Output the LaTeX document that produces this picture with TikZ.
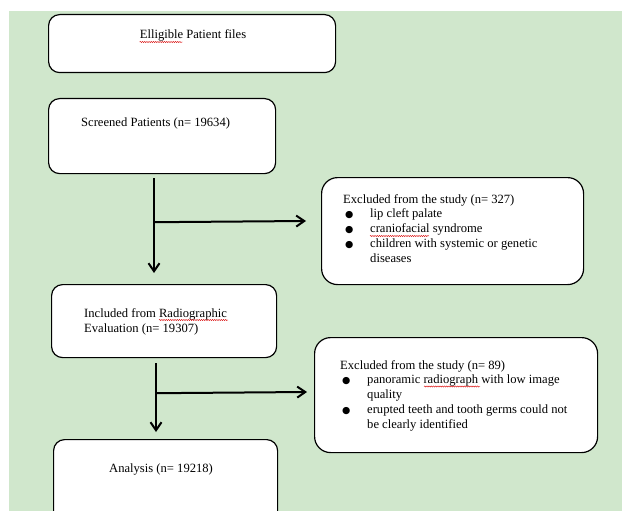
\documentclass[tikz,border=0pt]{standalone}
\usepackage{fontspec}
\setmainfont{Liberation Serif}
\newfontfamily\symfont{DejaVu Sans}
\usetikzlibrary{arrows.meta,calc,decorations.pathmorphing}
\definecolor{bggreen}{RGB}{208,231,204}
\newcommand{\bul}{\hspace{2pt}{\symfont\fontsize{9.5}{9.5}\selectfont ●}}
\begin{document}
\begin{tikzpicture}[x=1pt,y=-1pt,
  box/.style={draw=black, line width=1.2pt, fill=white, rounded corners=11pt, anchor=north west, inner sep=0pt},
  xbox/.style={box, rounded corners=16pt},
  txt/.style={font=\fontsize{12.6}{14.8}\selectfont, inner sep=0pt, anchor=base west},
  arr/.style={line width=2pt, -{Straight Barb[length=8pt,width=11pt,line width=2pt]}},
  spellmark/.style={draw=red!85!black, line width=0.4pt, decorate, decoration={snake, amplitude=0.6pt, segment length=2.2pt}}]
\useasboundingbox (0,0) rectangle (622,511);
\fill[bggreen] (9,11) rectangle (622,511);
% boxes
\node[box, minimum width=287pt, minimum height=58pt] (b1) at (48,14) {};
\node[box, minimum width=227pt, minimum height=75pt] (b2) at (48,98) {};
\node[box, minimum width=225pt, minimum height=73pt] (b3) at (51,284) {};
\node[box, minimum width=224pt, minimum height=95pt] (b4) at (53,439) {};
\node[xbox, minimum width=262pt, minimum height=107pt] (e1) at (321,177) {};
\node[xbox, minimum width=283pt, minimum height=115pt] (e2) at (314,337) {};
% texts
\node[txt, anchor=base] (t1) at (193,39) {Elligible Patient files};
\node[txt] (t2) at (81,127) {Screened Patients (n= 19634)};
\node[txt, align=left] (t3) at (84,332) {Included from Radiographic\\Evaluation (n= 19307)};
\node[txt] (t4) at (109,472) {Analysis (n= 19218)};
\node[txt] (te1) at (343,203) {\begin{tabular}[t]{@{}p{27pt}@{}l@{}}
\multicolumn{2}{@{}l@{}}{Excluded from the study (n= 327)}\\
\bul & lip cleft palate\\
\bul & craniofacial syndrome\\
\bul & children with systemic or genetic\\
 & diseases
\end{tabular}};
\node[txt] (te2) at (340,369) {\begin{tabular}[t]{@{}p{27pt}@{}l@{}}
\multicolumn{2}{@{}l@{}}{Excluded from the study (n= 89)}\\
\bul & panoramic radiograph with low image\\
 & quality\\
\bul & erupted teeth and tooth germs could not\\
 & be clearly identified
\end{tabular}};
% spell-check marks
\draw[spellmark] ($(t1.base west)+(0,3)$) -- +(43,0);
\draw[spellmark] ($(t3.base west)+(75,-12)$) -- +(69,0);
\draw[spellmark] ($(te1.base west)+(27,33)$) -- +(59,0);
\draw[spellmark] ($(te2.base west)+(84,17.5)$) -- +(56,0);
% connectors
\draw[arr] ($(b2.south west)+(106,4)$) -- ($(b3.north west)+(103,-11)$);
\draw[arr] ($(b2.south west)+(106,48)$) -- ($(e1.north west)+(-15,44)$);
\draw[arr] ($(b3.south west)+(105,5)$) -- ($(b4.north west)+(103,-7)$);
\draw[arr] ($(b3.south west)+(105,35)$) -- ($(e2.north west)+(-7,55)$);
\end{tikzpicture}
\end{document}
